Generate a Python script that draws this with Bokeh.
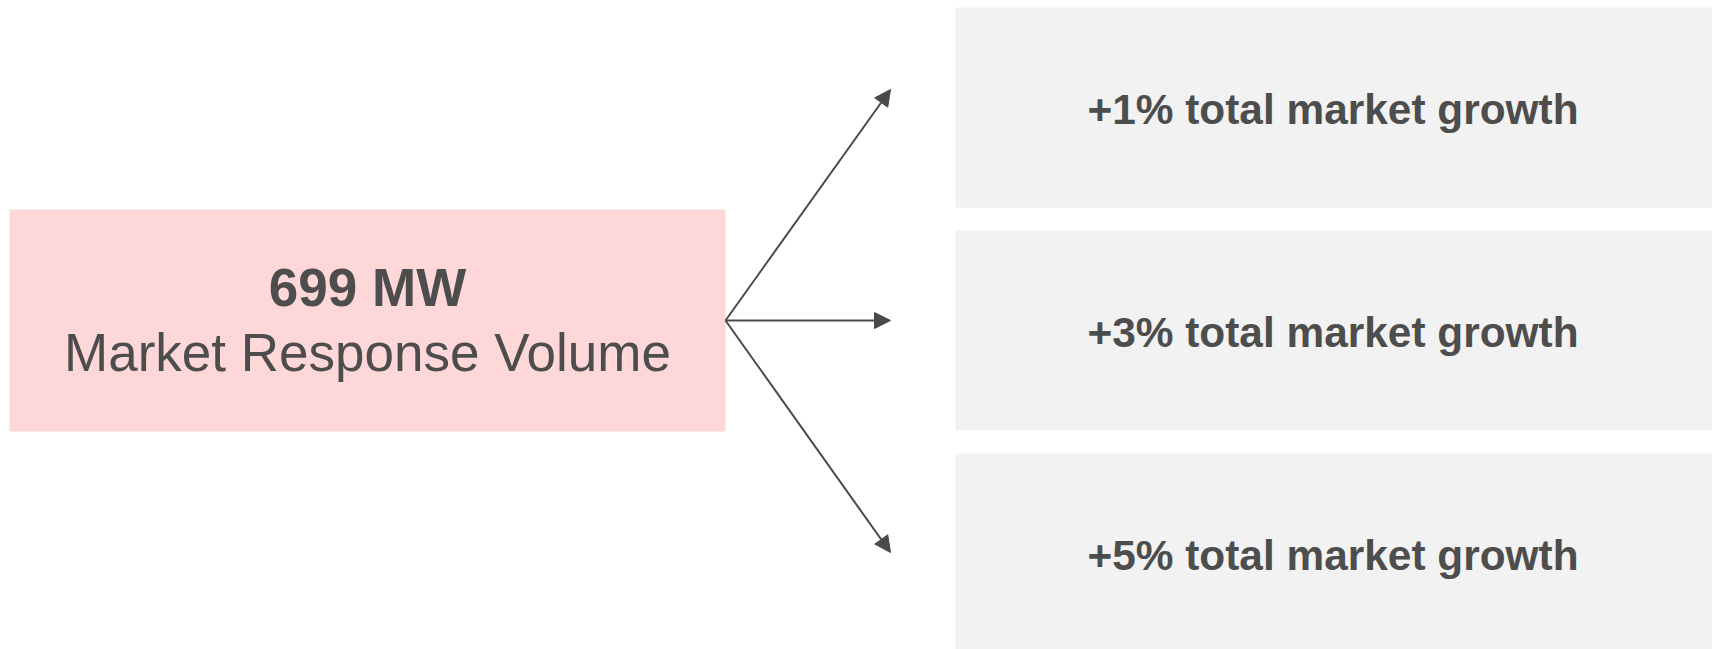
from bokeh.plotting import figure
from bokeh.models import Range1d, Arrow, NormalHead, ColumnDataSource
from bokeh.core.properties import value
from bokeh.embed import file_html
from bokeh.resources import INLINE

# Source figure and the growth scenarios that branch from it
volume_mw = 699
volume_label = "Market Response Volume"
growth_rates = [1, 3, 5]
scenario_labels = [f"+{g}% total market growth" for g in growth_rates]

W, H = 1712, 649
FONT = "Liberation Sans"
TEXT_COLOR = "#4d4d4d"
ARROW_COLOR = "#4a4a4a"

p = figure(width=W, height=H, output_backend="svg", toolbar_location=None,
           x_range=Range1d(0, W), y_range=Range1d(H, 0),
           min_border=0, outline_line_color=None)
p.axis.visible = False
p.grid.visible = False
p.background_fill_color = "white"
p.border_fill_color = "white"

# Left source box
src_left, src_right, src_top, src_bottom = 9, 725, 209, 431
p.quad(left=[src_left], right=[src_right], top=[src_top], bottom=[src_bottom],
       fill_color="#fed7d8", line_color=None)
src_cx = (src_left + src_right) / 2
src_cy = (src_top + src_bottom) / 2

p.text(x=[src_cx], y=[287], text=[f"{volume_mw} MW"], text_align="center",
       text_baseline="alphabetic", text_font=value(FONT), text_font_style="bold",
       text_font_size="53px", text_color=TEXT_COLOR)
p.text(x=[src_cx], y=[352], text=[volume_label], text_align="center",
       text_baseline="alphabetic", text_font=value(FONT),
       text_font_size="53px", text_color=TEXT_COLOR)

# Scenario boxes on the right
box_left, box_right = 955, W
box_h, box_step, first_top = 200, 223, 7
tops = [first_top + i * box_step for i in range(len(growth_rates))]
bottoms = [t + box_h for t in tops]
centers = [(t + b) / 2 for t, b in zip(tops, bottoms)]

boxes = ColumnDataSource(dict(top=tops, bottom=bottoms,
                              left=[box_left] * len(tops), right=[box_right] * len(tops)))
p.quad(left="left", right="right", top="top", bottom="bottom", source=boxes,
       fill_color="#f2f2f2", line_color=None)

labels = ColumnDataSource(dict(x=[(box_left + box_right) / 2 - 1] * len(tops),
                               y=[c + 2 for c in centers],
                               text=scenario_labels))
p.text(x="x", y="y", text="text", source=labels, text_align="center",
       text_baseline="alphabetic", text_font=value(FONT), text_font_style="bold",
       text_font_size="42.4px", text_color=TEXT_COLOR)

# Arrows fanning out from the source box edge
tip_x = 890
tip_ys = [89, 320, 552]
for ty in tip_ys:
    p.add_layout(Arrow(x_start=src_right, y_start=src_cy, x_end=tip_x, y_end=ty,
                       line_color=ARROW_COLOR, line_width=2,
                       end=NormalHead(size=16, fill_color=ARROW_COLOR,
                                      line_color=ARROW_COLOR, line_width=1)))

open("out.html", "w").write(file_html(p, INLINE))
